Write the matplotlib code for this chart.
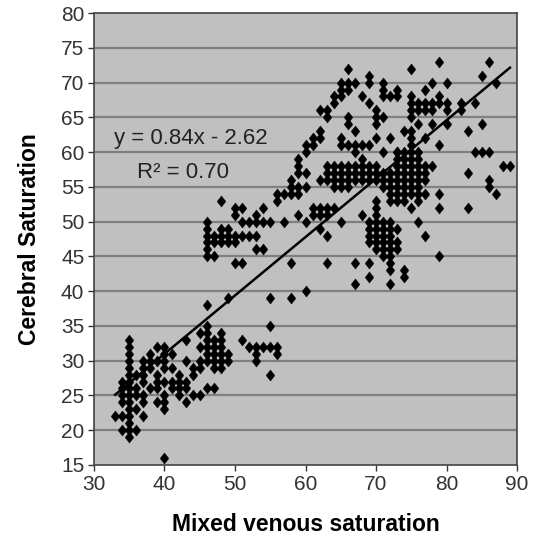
import numpy as np
import matplotlib
matplotlib.use("Agg")
from matplotlib import pyplot as plt
from matplotlib.path import Path

plt.rcParams['font.family'] = ['Liberation Sans', 'DejaVu Sans']

## DATA (integer readings)
# low cluster: x < 50, y < 41
low_x = [33, 34, 34, 34, 34, 34, 34,
         35, 35, 35, 35, 35, 35, 35, 35, 35, 35, 35, 35, 35, 35, 35,
         36, 36, 36, 36, 36,
         37, 37, 37, 37, 37, 37, 37,
         38, 38, 38, 38,
         39, 39, 39, 39, 39, 39,
         40, 40, 40, 40, 40, 40, 40, 40, 40,
         41, 41, 41, 41,
         42, 42, 42, 42,
         43, 43, 43, 43, 43,
         44, 44, 44,
         45, 45, 45, 45, 45,
         46, 46, 46, 46, 46, 46, 46, 46,
         47, 47, 47, 47, 47, 47,
         48, 48, 48, 48, 48, 48,
         49, 49, 49]
low_y = [22, 27, 26, 25, 24, 22, 20,
         33, 32, 31, 30, 29, 28, 27, 26, 25, 24, 23, 22, 21, 20, 19,
         28, 26, 25, 23, 20,
         30, 29, 28, 27, 25, 24, 22,
         31, 30, 29, 26,
         32, 30, 28, 27, 26, 24,
         32, 31, 30, 29, 27, 25, 24, 23, 16,
         31, 29, 27, 26,
         28, 27, 26, 25,
         33, 30, 27, 26, 24,
         29, 28, 25,
         34, 32, 30, 29, 25,
         38, 35, 34, 33, 32, 31, 30, 26,
         33, 32, 31, 30, 29, 26,
         34, 33, 32, 31, 30, 29,
         39, 31, 30]

# scattered points x 50-63, y 28-45
gap_x = [51, 52, 53, 54, 55, 56, 53, 56, 53, 55, 55, 55, 58, 60, 50, 51, 58, 63]
gap_y = [33, 32, 32, 32, 32, 32, 31, 31, 30, 28, 35, 39, 39, 40, 44, 44, 44, 44]

# left cluster x 46-61, y 44-61
left_x = [46, 46, 46, 46, 46, 46,
          47, 47, 47,
          48, 48, 48, 48,
          49, 49, 49,
          50, 50, 50, 50,
          51, 51, 51,
          52, 52,
          53, 53, 53, 53,
          54, 54, 54,
          55,
          56, 56,
          57, 57,
          58, 58, 58,
          59, 59, 59, 59, 59, 59,
          60, 60, 60, 60, 60]
left_y = [50, 49, 48, 47, 46, 45,
          48, 47, 45,
          53, 49, 48, 47,
          49, 48, 47,
          52, 51, 48, 47,
          52, 50, 48,
          48, 50,
          51, 50, 48, 46,
          52, 50, 46,
          50,
          54, 53,
          54, 50,
          54, 55, 56,
          57, 55, 54, 51, 58, 59,
          55, 57, 50, 60, 61]

# main cloud x 61-79
main_x = [61, 61, 62, 62, 62, 63, 63, 64, 64, 66, 75,
          65, 66, 67, 65, 66, 65,
          69, 69, 71, 71, 71, 73, 73,
          68, 69, 70, 72,
          70, 71, 70,
          66, 66, 67,
          75, 75, 75, 74, 76, 77,
          65, 66, 67, 68, 69, 65,
          70, 72, 67, 68, 71, 73,
          63, 64, 65, 66, 63, 64, 65, 66, 63, 64, 65, 66, 64, 65, 66,
          67, 68, 69, 70, 67, 68, 69, 70, 67, 68, 69, 70,
          71, 72, 73, 74, 75, 71, 72, 73, 74, 75, 71, 72, 73, 74, 75,
          72, 73, 74, 75, 72, 73, 74,
          73, 74, 75, 76, 73, 74, 75, 76, 73, 74, 75, 76, 77,
          76, 76, 76, 77, 76, 75,
          62, 61, 62, 63, 64, 61, 62, 63, 62, 63, 65, 68, 70,
          70, 70, 70, 70, 70, 70,
          69, 71, 72, 69, 71, 72, 73, 69, 71, 72, 69, 71, 72, 73,
          70, 71, 72, 73, 71, 72,
          76, 77, 79, 79, 79,
          67, 69, 69, 72, 72, 74, 74, 67, 72]
main_y = [61, 62, 62, 63, 66, 65, 66, 67, 68, 72, 72,
          70, 70, 70, 69, 69, 68,
          71, 70, 70, 69, 68, 69, 68,
          68, 67, 66, 68,
          65, 65, 64,
          65, 64, 63,
          68, 66, 65, 63, 64, 62,
          61, 61, 61, 61, 61, 62,
          62, 62, 60, 59, 60, 60,
          58, 58, 58, 58, 57, 57, 57, 57, 56, 56, 56, 56, 55, 55, 55,
          58, 58, 58, 58, 57, 57, 57, 57, 56, 56, 56, 56,
          57, 57, 57, 57, 57, 56, 56, 56, 56, 56, 55, 55, 55, 55, 55,
          54, 54, 54, 54, 53, 53, 53,
          60, 60, 60, 60, 59, 59, 59, 59, 58, 58, 58, 58, 58,
          57, 56, 55, 56, 54, 52,
          56, 52, 52, 52, 52, 51, 51, 51, 49, 48, 50, 51, 53,
          52, 51, 50, 49, 48, 47,
          50, 50, 50, 49, 49, 49, 49, 48, 48, 48, 47, 47, 47, 47,
          46, 46, 46, 46, 45, 45,
          50, 48, 45, 54, 52,
          44, 44, 42, 44, 43, 43, 42, 41, 41]

# right edge x 75-89
right_x = [79, 86, 85, 87, 78, 80, 77, 79, 80,
           75, 76, 77, 78, 79, 76, 77, 78,
           80, 82, 82, 84,
           75, 78, 80, 83, 85,
           75, 75, 79,
           84, 85, 86, 88, 89, 83, 86, 86, 87, 83, 78, 77, 77, 76]
right_y = [73, 73, 71, 70, 70, 70, 69, 68, 67,
           67, 67, 67, 67, 67, 66, 66, 66,
           66, 67, 66, 67,
           63, 64, 64, 63, 64,
           62, 61, 61,
           60, 60, 60, 58, 58, 57, 56, 55, 54, 52, 58, 57, 54, 53]

trend_slope = 0.84
trend_icpt = -2.62

x_ticks = [30, 40, 50, 60, 70, 80, 90]
y_ticks = [15, 20, 25, 30, 35, 40, 45, 50, 55, 60, 65, 70, 75, 80]

xs = np.array(low_x + gap_x + left_x + main_x + right_x)
ys = np.array(low_y + gap_y + left_y + main_y + right_y)

# excel-like diamond, a bit taller than wide
diamond = Path([(0, 1), (0.78, 0), (0, -1), (-0.78, 0), (0, 1)],
	[Path.MOVETO, Path.LINETO, Path.LINETO, Path.LINETO, Path.CLOSEPOLY])

fig = plt.figure(figsize=(5.38, 5.36), dpi=100)
ax = fig.add_axes([0.1747, 0.1325, 0.7863, 0.8432])
ax.set_facecolor('#C0C0C0')

for yv in y_ticks[1:-1]:
	ax.axhline(yv, color='#808080', lw=1.6, zorder=1)

# trendline
lx = np.array([xs.min(), xs.max()])
ax.plot(lx, trend_slope*lx + trend_icpt, color='black', lw=1.8, zorder=2)

ax.plot(xs, ys, linestyle='none', marker=diamond, ms=8, color='black',
	markeredgewidth=0.3, zorder=3)

ax.text(43.8, 62.0, 'y = 0.84x - 2.62', fontsize=16, ha='center', va='center', color='#222222')
ax.text(42.6, 57.1, 'R\u00b2 = 0.70', fontsize=16, ha='center', va='center', color='#222222')

ax.set_xlim(30, 90)
ax.set_ylim(15, 80)
ax.set_xticks(x_ticks)
ax.set_yticks(y_ticks)
ax.tick_params(axis='both', labelsize=15, colors='#333333', length=4, width=1, direction='out')
ax.tick_params(axis='x', pad=3)
ax.tick_params(axis='y', pad=3)
for sp in ax.spines.values():
	sp.set_color('#444444')
	sp.set_linewidth(1.2)

ax.set_xlabel('Mixed venous saturation', fontsize=16.5, fontweight='bold', labelpad=14)
ax.set_ylabel('Cerebral Saturation', fontsize=16.5, fontweight='bold', labelpad=14)

fig.savefig('out.png', dpi=100)
